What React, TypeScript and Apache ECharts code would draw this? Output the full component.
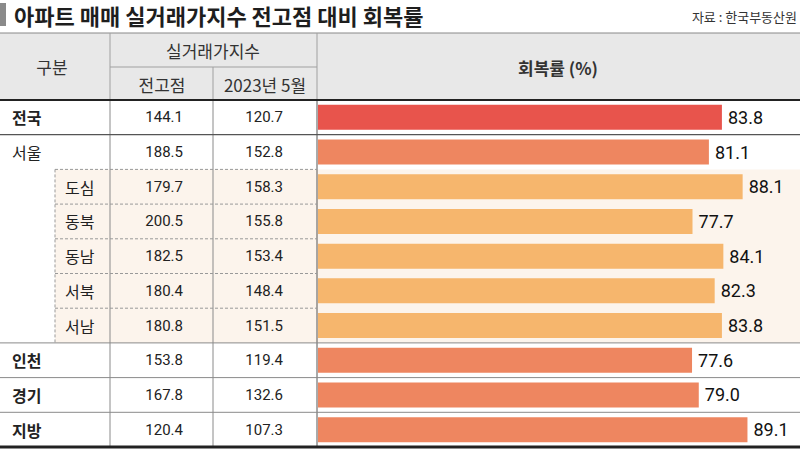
import React, { useEffect, useRef } from "react";
import * as echarts from "echarts";

const regions = ["전국", "서울", "도심", "동북", "동남", "서북", "서남", "인천", "경기", "지방"];
const rowKind = ["total", "city", "sub", "sub", "sub", "sub", "sub", "city", "city", "city"];
const peakIndex = [144.1, 188.5, 179.7, 200.5, 182.5, 180.4, 180.8, 153.8, 167.8, 120.4];
const may2023Index = [120.7, 152.8, 158.3, 155.8, 153.4, 148.4, 151.5, 119.4, 132.6, 107.3];
const recoveryRate = [83.8, 81.1, 88.1, 77.7, 84.1, 82.3, 83.8, 77.6, 79.0, 89.1];

const titleText = "아파트 매매 실거래가지수 전고점 대비 회복률";
const sourceText = "자료 : 한국부동산원";
const headGroup = "구분";
const headIndex = "실거래가지수";
const headPeak = "전고점";
const headMay = "2023년 5월";
const headRate = "회복률 (%)";

const kindColor: Record<string, string> = { total: "#e8544c", city: "#ee8660", sub: "#f6b66d" };

const CJK = '"Noto Sans CJK KR", "Noto Sans", sans-serif';
const NUM = 'Roboto, "Noto Sans", sans-serif';

const W = 800;
const TOP = 100;
const BOTTOM = 447;
const GRID_LEFT = 318;
const ROW_H = (BOTTOM - TOP) / regions.length;

export default function App() {
  const ref = useRef<HTMLDivElement>(null);
  useEffect(() => {
    if (!ref.current) return;
    const chart = echarts.init(ref.current, undefined, { renderer: "svg" });
    const rowY = (i: number) => TOP + i * ROW_H;
    const subStart = rowKind.indexOf("sub");
    const subEnd = rowKind.lastIndexOf("sub") + 1;

    const graphics: any[] = [];
    // backgrounds
    graphics.push({ type: "rect", z: 0, shape: { x: 0, y: 33, width: W, height: TOP - 33 }, style: { fill: "#e8e8e8" } });
    graphics.push({
      type: "rect", z: 0,
      shape: { x: 55, y: rowY(subStart), width: W - 55, height: (subEnd - subStart) * ROW_H },
      style: { fill: "#fcf4ec" },
    });
    // title
    graphics.push({ type: "rect", z: 5, shape: { x: 0, y: 3, width: 6, height: 23 }, style: { fill: "#8a8a8a" } });
    graphics.push({ type: "text", z: 5, x: 14, y: 15, style: { text: titleText, font: `bold 22px ${CJK}`, fill: "#1e1e1e", verticalAlign: "middle" } });
    graphics.push({ type: "text", z: 5, x: 797, y: 16, style: { text: sourceText, font: `13px ${CJK}`, fill: "#333", align: "right", verticalAlign: "middle" } });
    // header texts
    const ht = (text: string, x: number, y: number, bold = false) => ({
      type: "text", z: 5, x, y,
      style: { text, font: `${bold ? "bold " : ""}17px ${CJK}`, fill: "#333", align: "center", verticalAlign: "middle" },
    });
    graphics.push(ht(headGroup, 52, 66));
    graphics.push(ht(headIndex, 213, 50));
    graphics.push(ht(headPeak, 162, 84));
    graphics.push(ht(headMay, 265, 84));
    graphics.push(ht(headRate, 558, 67, true));
    // lines
    const ln = (x1: number, y1: number, x2: number, y2: number, stroke: string, lineWidth = 1, dash?: number[]) => ({
      type: "line", z: 4,
      shape: { x1, y1, x2, y2 },
      style: { stroke, lineWidth, lineDash: dash },
    });
    graphics.push(ln(0, 33, W, 33, "#888"));
    graphics.push(ln(110, 33, 110, TOP, "#a0a0a0"));
    graphics.push(ln(317, 33, 317, TOP, "#a0a0a0"));
    graphics.push(ln(213, 67, 213, TOP, "#a0a0a0"));
    graphics.push(ln(110, 67, 317, 67, "#a0a0a0"));
    graphics.push(ln(110, TOP, 110, BOTTOM, "#8a8a8a"));
    graphics.push(ln(213, TOP, 213, BOTTOM, "#8a8a8a"));
    graphics.push(ln(317, TOP, 317, BOTTOM, "#555"));
    for (let i = 1; i < regions.length; i++) {
      const y = rowY(i);
      if (rowKind[i] === "sub") {
        graphics.push(ln(55, y, 317, y, "#999", 1, [3, 2]));
      } else if (i === 1) {
        graphics.push(ln(0, y, W, y, "#555", 1.2));
      } else {
        graphics.push(ln(0, y, W, y, "#8a8a8a", 1));
      }
    }
    graphics.push(ln(55, rowY(subStart), 55, rowY(subEnd), "#999", 1, [3, 2]));
    graphics.push(ln(0, TOP, W, TOP, "#222", 2));
    graphics.push(ln(0, BOTTOM, W, BOTTOM, "#222", 3));

    const numAxis = (offset: number, values: number[]) => ({
      type: "category",
      data: regions,
      inverse: true,
      position: "left",
      offset,
      gridIndex: 0,
      axisLine: { show: false },
      axisTick: { show: false },
      splitLine: { show: false },
      axisLabel: {
        interval: 0,
        margin: 0,
        align: "right",
        fontFamily: NUM,
        fontSize: 15,
        color: "#222",
        formatter: (_v: string, i: number) => values[i].toFixed(1),
      },
    });

    chart.setOption({
      animation: false,
      grid: { left: GRID_LEFT, right: 0, top: TOP, bottom: 449 - BOTTOM, containLabel: false },
      xAxis: { type: "value", min: 0, max: 100, show: false },
      yAxis: [
        {
          type: "category",
          data: regions,
          inverse: true,
          position: "left",
          offset: GRID_LEFT - 12,
          axisLine: { show: false },
          axisTick: { show: false },
          splitLine: { show: false },
          axisLabel: {
            interval: 0,
            margin: 0,
            align: "left",
            formatter: (v: string, i: number) =>
              rowKind[i] === "sub" ? `{sub|${v}}` : v === "서울" ? `{reg|${v}}` : `{bold|${v}}`,
            rich: {
              bold: { fontFamily: CJK, fontSize: 16, fontWeight: "bold", color: "#222" },
              reg: { fontFamily: CJK, fontSize: 16, color: "#222" },
              sub: { fontFamily: CJK, fontSize: 16, color: "#222", padding: [0, 0, 0, 53] },
            },
          },
        },
        numAxis(GRID_LEFT - 183, peakIndex),
        numAxis(GRID_LEFT - 283, may2023Index),
      ],
      series: [
        {
          type: "bar",
          xAxisIndex: 0,
          yAxisIndex: 0,
          barWidth: 25,
          data: recoveryRate.map((v, i) => ({ value: v, itemStyle: { color: kindColor[rowKind[i]] } })),
          label: {
            show: true,
            position: "right",
            distance: 6,
            fontFamily: NUM,
            fontSize: 18,
            color: "#111",
            formatter: (p: any) => Number(p.value).toFixed(1),
          },
          z: 3,
        },
      ],
      graphic: graphics,
    });
    return () => chart.dispose();
  }, []);
  return <div ref={ref} style={{ width: 800, height: 449, position: "absolute", left: 0, top: 0 }} />;
}
